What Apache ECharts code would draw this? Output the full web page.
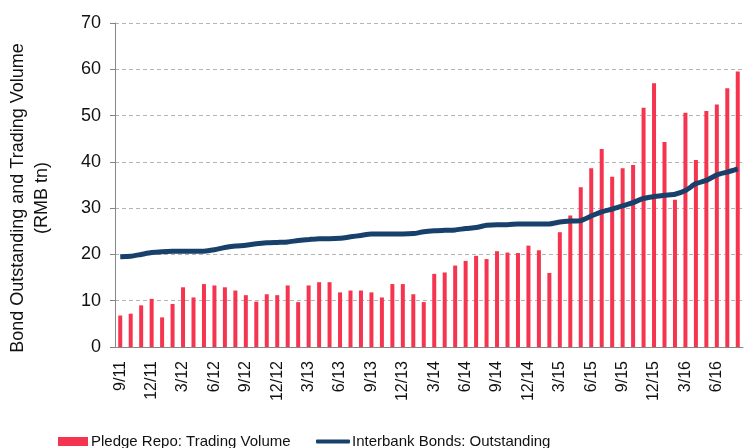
<!DOCTYPE html>
<html>
<head>
<meta charset="utf-8">
<script src="https://cdn.jsdelivr.net/npm/echarts@6/dist/echarts.min.js"></script>
<style>
  html, body { margin: 0; padding: 0; background: #fff; }
  #chart { width: 744px; height: 448px; }
</style>
</head>
<body>
<div id="chart"></div>
<script>
  // monthly, 9/11 .. 8/16
  const months = [
    '9/11','10/11','11/11','12/11','1/12','2/12','3/12','4/12','5/12','6/12','7/12','8/12',
    '9/12','10/12','11/12','12/12','1/13','2/13','3/13','4/13','5/13','6/13','7/13','8/13',
    '9/13','10/13','11/13','12/13','1/14','2/14','3/14','4/14','5/14','6/14','7/14','8/14',
    '9/14','10/14','11/14','12/14','1/15','2/15','3/15','4/15','5/15','6/15','7/15','8/15',
    '9/15','10/15','11/15','12/15','1/16','2/16','3/16','4/16','5/16','6/16','7/16','8/16'
  ]
  const repoVolume = [
    6.8, 7.2, 9.0, 10.4, 6.4, 9.3, 12.9, 10.7, 13.6, 13.3, 12.9, 12.2,
    11.2, 9.8, 11.4, 11.2, 13.3, 9.7, 13.3, 14.0, 14.0, 11.8, 12.2, 12.2,
    11.8, 10.7, 13.6, 13.6, 11.4, 9.7, 15.8, 16.1, 17.6, 18.6, 19.7, 19.0,
    20.7, 20.4, 20.3, 21.9, 20.9, 16.0, 24.8, 28.4, 34.5, 38.6, 42.8, 36.8,
    38.6, 39.3, 51.7, 57.0, 44.3, 31.8, 50.6, 40.4, 51.0, 52.4, 55.9, 59.5
  ]
  const bondsOutstanding = [
    19.5, 19.6, 20.0, 20.4, 20.6, 20.7, 20.7, 20.7, 20.7, 21.0, 21.5, 21.8,
    22.0, 22.3, 22.5, 22.6, 22.7, 23.0, 23.2, 23.4, 23.4, 23.5, 23.8, 24.1,
    24.4, 24.4, 24.4, 24.4, 24.5, 24.9, 25.1, 25.2, 25.3, 25.6, 25.8, 26.3,
    26.4, 26.4, 26.6, 26.6, 26.6, 26.6, 27.0, 27.2, 27.3, 28.3, 29.2, 29.8,
    30.5, 31.2, 32.1, 32.5, 32.8, 33.0, 33.8, 35.3, 36.0, 37.2, 37.8, 38.5
  ]
  const yTicks = [0, 10, 20, 30, 40, 50, 60, 70]

  const font = '"Liberation Sans", Arial, sans-serif'
  let charts = echarts.init(document.getElementById('chart'))
  let option = {
    animation: false,
    grid: {
      left: 115,
      right: 1,
      top: 23,
      bottom: 101
    },
    legend: [
      {
        left: 53,
        top: 429,
        itemWidth: 30,
        itemHeight: 9,
        data: [{ name: 'Pledge Repo: Trading Volume', icon: 'rect' }],
        textStyle: { color: '#111', fontSize: 15, fontFamily: font, padding: [0, 0, 0, -2] }
      },
      {
        left: 311,
        top: 429,
        itemWidth: 34,
        itemHeight: 4,
        data: [{ name: 'Interbank Bonds: Outstanding', icon: 'roundRect' }],
        textStyle: { color: '#111', fontSize: 15, fontFamily: font, padding: [0, 0, 0, -3] }
      }
    ],
    graphic: [
      {
        type: 'text',
        x: 30,
        y: 198,
        rotation: Math.PI / 2,
        style: {
          text: 'Bond Outstanding and Trading Volume\n(RMB tn)',
          font: '18px "Liberation Sans", Arial, sans-serif',
          fill: '#111',
          align: 'center',
          verticalAlign: 'middle',
          lineHeight: 24
        }
      }
    ],
    xAxis: {
      type: 'category',
      data: months,
      boundaryGap: true,
      axisLine: { lineStyle: { color: '#868686', width: 1 } },
      axisTick: {
        interval: 2,
        length: 6,
        lineStyle: { color: '#868686' }
      },
      axisLabel: {
        interval: 2,
        rotate: 90,
        margin: 14,
        color: '#111',
        fontSize: 16,
        fontFamily: font
      }
    },
    yAxis: {
      type: 'value',
      min: yTicks[0],
      max: yTicks[yTicks.length - 1],
      interval: 10,
      axisLine: { show: true, lineStyle: { color: '#868686', width: 1 } },
      axisTick: { show: true, length: 5, lineStyle: { color: '#868686' } },
      axisLabel: {
        margin: 14,
        color: '#111',
        fontSize: 18,
        fontFamily: font
      },
      splitLine: {
        lineStyle: { color: '#b4b4b4', type: [4, 3] }
      }
    },
    series: [
      {
        name: 'Pledge Repo: Trading Volume',
        type: 'bar',
        barWidth: 4,
        itemStyle: { color: '#f5354f' },
        data: repoVolume
      },
      {
        name: 'Interbank Bonds: Outstanding',
        type: 'line',
        symbol: 'none',
        smooth: 0.2,
        lineStyle: { color: '#17416b', width: 5 },
        itemStyle: { color: '#17416b' },
        data: bondsOutstanding
      }
    ]
  }
  charts.setOption(option)
  window.addEventListener('resize', () => {
    charts.resize()
  })
</script>
</body>
</html>
